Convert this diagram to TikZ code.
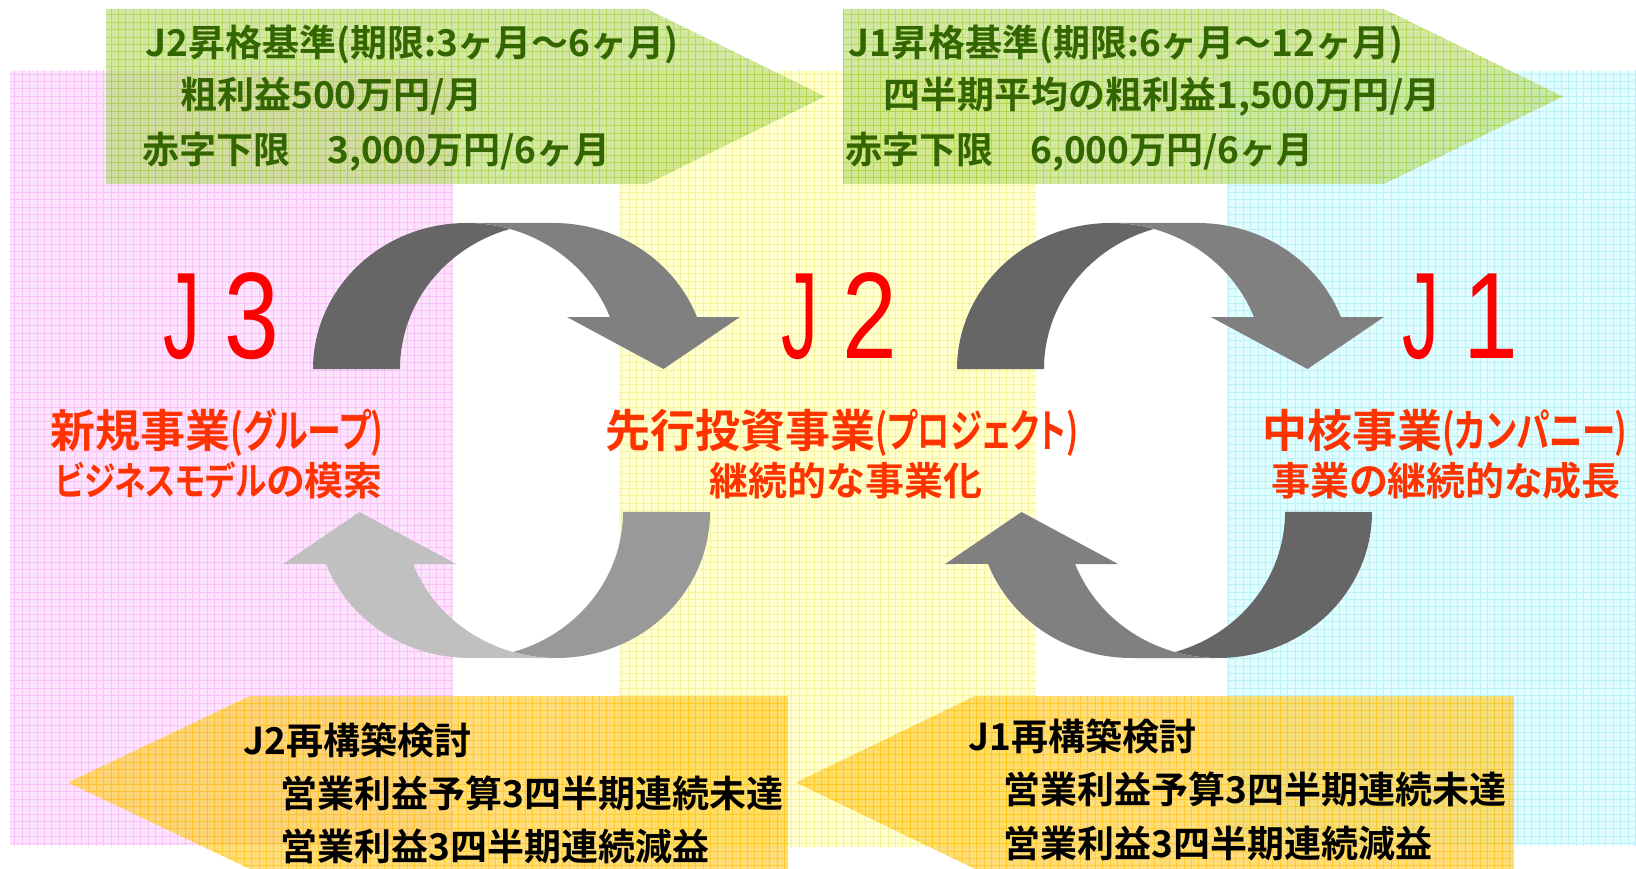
\documentclass[tikz,border=0pt]{standalone}
\usepackage{fontspec}
\usepackage{graphicx}
\newfontfamily\jpfont{Noto Sans CJK JP}[BoldFont={Noto Sans CJK JP Bold}]
\newfontfamily\jppfont{Noto Sans CJK JP}[BoldFont={Noto Sans CJK JP Bold},RawFeature=+palt]
\newfontfamily\bigfont{Liberation Sans}[FakeStretch=0.8]
\definecolor{pinkbg}{HTML}{FDE3FD}
\definecolor{pinkln}{HTML}{F8C4F8}
\definecolor{yellowbg}{HTML}{FFFFD0}
\definecolor{yellowln}{HTML}{F6F29C}
\definecolor{cyanbg}{HTML}{E0FEFF}
\definecolor{cyanln}{HTML}{BCF2F6}
\definecolor{greenfill}{HTML}{B5D96A}
\definecolor{greenln}{HTML}{9CCB19}
\definecolor{orangefill}{HTML}{FFCC33}
\definecolor{orangeln}{HTML}{FFC000}
\definecolor{greentext}{HTML}{336600}
\definecolor{subred}{HTML}{FF3300}
\definecolor{gdark}{HTML}{666666}
\definecolor{gmid}{HTML}{808080}
\definecolor{glight}{HTML}{999999}
\definecolor{glighter}{HTML}{C0C0C0}
\tikzset{
  gtext/.style={font=\jpfont\bfseries\fontsize{37}{44}\selectfont, text=greentext, anchor=base west, inner sep=0pt},
  otext/.style={gtext, text=black},
  subA/.style={font=\jppfont\bfseries\fontsize{45}{54}\selectfont, text=subred, anchor=base, inner sep=0pt},
  subB/.style={subA, font=\jppfont\bfseries\fontsize{39}{47}\selectfont},
  biglabel/.style={font=\bigfont\fontsize{123}{140}\selectfont, text=red, anchor=base, inner sep=0pt},
  gridln/.style={line width=0.8pt},
}
% curved arrow: #1 back colour, #2 front colour
\newcommand{\curvedarrowshape}[2]{%
  \fill[#1] (510,229) arc[start angle=253.54, end angle=180, x radius=153.5, y radius=146]
     -- (313,369) arc[start angle=180, end angle=286.46, x radius=153.5, y radius=146] -- cycle;
  \fill[#2] (663.5,369) -- (566.9,317) -- (609.9,317)
     arc[start angle=-20.86, end angle=-90, x radius=153.5, y radius=146]
     -- (553.5,223) arc[start angle=-90, end angle=-20.86, x radius=153.5, y radius=146]
     -- (739.9,317) -- cycle;
}
% pattern-filled region: #1 path, #2 fill options, #3 grid line options
\newcommand{\gridregion}[3]{%
  \begin{scope}
    \clip #1;
    \fill[#2] #1;
    \draw[gridln,#3] (0,869) grid[step=7.4pt] (1636,0);
  \end{scope}
}
\newcommand{\narrowJ}{\scalebox{0.75}[1]{J}}
\newcommand{\fitw}[2]{\resizebox{#1pt}{\height}{#2}}
\begin{document}
\begin{tikzpicture}[x=1pt,y=-1pt]
\useasboundingbox (0,0) rectangle (1636,869);
\fill[white] (0,0) rectangle (1636,869);

% background bands
\gridregion{(10,71) rectangle (453,845)}{pinkbg}{pinkln}
\gridregion{(619,71) rectangle (1036,847)}{yellowbg}{yellowln}
\gridregion{(1227,71) rectangle (1636,845)}{cyanbg}{cyanln}

% green arrows (top)
\gridregion{(106,9) -- (647,9) -- (825,96.5) -- (647,184) -- (106,184) -- cycle}{greenfill,opacity=0.6}{greenln,opacity=0.5}
\gridregion{(843,9) -- (1384,9) -- (1563,96.5) -- (1384,184) -- (843,184) -- cycle}{greenfill,opacity=0.6}{greenln,opacity=0.5}

% orange arrows (bottom)
\gridregion{(788,696) -- (250,696) -- (68,782.5) -- (250,869) -- (788,869) -- cycle}{orangefill,opacity=0.65}{orangeln,opacity=0.6}
\gridregion{(1514,696) -- (975,696) -- (796,782.5) -- (975,869) -- (1514,869) -- cycle}{orangefill,opacity=0.65}{orangeln,opacity=0.6}

% curved arrows
\begin{scope}
  \curvedarrowshape{gdark}{gmid}
\end{scope}
\begin{scope}[shift={(644,0)}]
  \curvedarrowshape{gdark}{gmid}
\end{scope}
\begin{scope}[shift={(1023,881)}, rotate=180]
  \curvedarrowshape{glight}{glighter}
\end{scope}
\begin{scope}[shift={(1685,881)}, rotate=180]
  \curvedarrowshape{gdark}{gmid}
\end{scope}

% green arrow texts
\node[gtext] (gl1) at (145,57) {J2昇格基準(期限:3ヶ月～6ヶ月)};
\node[gtext] (gl2) at (180,109) {粗利益500万円/月};
\node[gtext] (gl3) at (142,164) {赤字下限　3,000万円/6ヶ月};
\node[gtext] (gr1) at (848,57) {J1昇格基準(期限:6ヶ月～12ヶ月)};
\node[gtext] (gr2) at (883,109) {四半期平均の粗利益1,500万円/月};
\node[gtext] (gr3) at (845,164) {赤字下限　6,000万円/6ヶ月};

% orange arrow texts
\node[otext] (ol1) at (243,754) {J2再構築検討};
\node[otext] (ol2) at (280,807) {営業利益予算3四半期連続未達};
\node[otext] (ol3) at (280,860) {営業利益3四半期連続減益};
\node[otext] (or1) at (968,750) {J1再構築検討};
\node[otext] (or2) at (1003,803) {営業利益予算3四半期連続未達};
\node[otext] (or3) at (1003,857) {営業利益3四半期連続減益};

% big labels
\node[biglabel] (j3) at (217,358) {\makebox[70pt]{\narrowJ}\makebox[70pt]{3}};
\node[biglabel] (j2) at (834.5,358) {\makebox[70pt]{\narrowJ}\makebox[70pt]{2}};
\node[biglabel] (j1) at (1456,358) {\makebox[70pt]{\narrowJ}\makebox[70pt]{1}};

% subtitles
\node[subA] (s3a) at (217,447) {新規事業\fitw{153}{(グループ)}};
\node[subB] (s3b) at (219,495) {\fitw{211}{ビジネスモデル}の模索};
\node[subA] (s2a) at (842,447) {先行投資事業\fitw{203}{(プロジェクト)}};
\node[subB] (s2b) at (846,495) {継続的な事業化};
\node[subA] (s1a) at (1445,447) {中核事業\fitw{185}{(カンパニー)}};
\node[subB] (s1b) at (1446,495) {事業の継続的な成長};
\end{tikzpicture}
\end{document}
